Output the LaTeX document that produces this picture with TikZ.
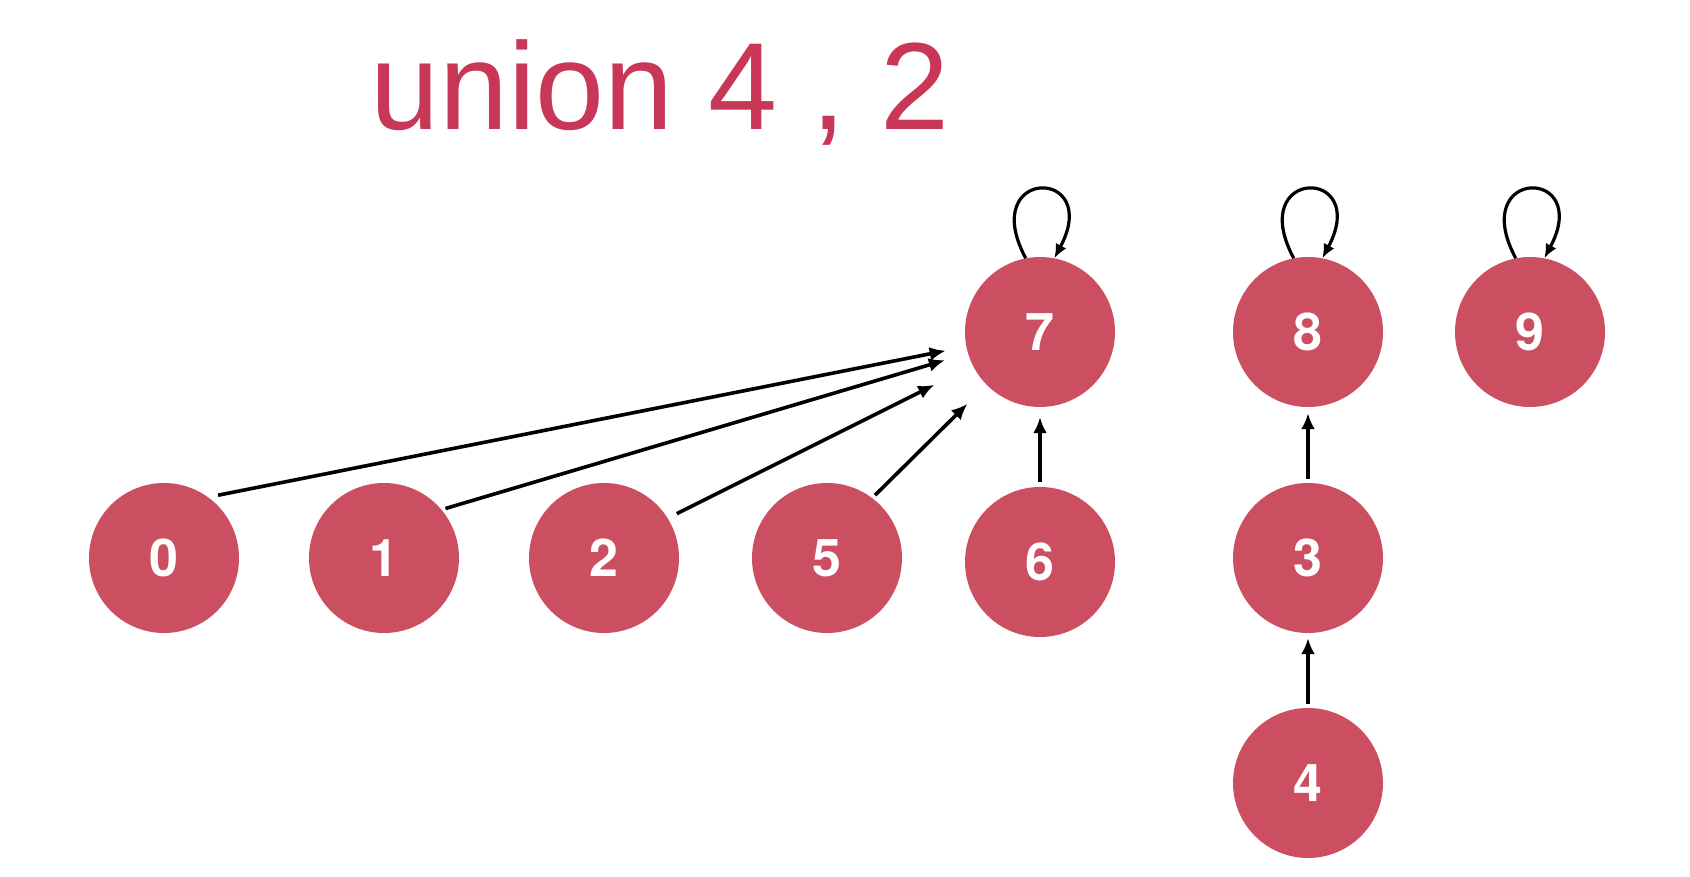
\documentclass[tikz,border=0pt]{standalone}
\usepackage{fontspec}
\setmainfont{Liberation Sans}
\newfontfamily\digitfont{TeX Gyre Heros}
\usetikzlibrary{arrows.meta}
\definecolor{nodered}{RGB}{203,78,97}
\definecolor{titlered}{RGB}{201,55,86}

\begin{document}
\begin{tikzpicture}[x=1pt,y=1pt,
  elem/.style={circle,fill=nodered,draw=none,minimum size=150pt,inner sep=0pt,text=white,font=\digitfont\bfseries\fontsize{52}{60}\selectfont},
  parent/.style={-{Latex[length=16pt,width=14pt]},line width=3.6pt},
  selfloop/.style={-{Latex[length=14pt,width=12pt]},line width=3.2pt,distance=104pt}]
\useasboundingbox (0,0) rectangle (1690,876);

% Text Node
\node[anchor=base,inner sep=0pt,text=titlered,font=\fontsize{124}{140}\selectfont] (title) at (660,746) {union 4 , 2};

%Shape: Circles, row of roots
\node[elem] (n7) at (1040,544) {7};
\node[elem] (n8) at (1308,544) {8};
\node[elem] (n9) at (1530,544) {9};
%Shape: Circles, middle row
\node[elem] (n0) at (164,318) {0};
\node[elem] (n1) at (384,318) {1};
\node[elem] (n2) at (604,318) {2};
\node[elem] (n5) at (827,318) {5};
\node[elem] (n6) at (1040,314) {6};
\node[elem] (n3) at (1308,318) {3};
%Shape: Circle, bottom
\node[elem] (n4) at (1308,93) {4};

%Straight Lines
\draw[parent,shorten <=10pt,shorten >=21pt] (n0.54) -- (n7);
\draw[parent,shorten <=4pt,shorten >=24pt] (n1.40) -- (n7);
\draw[parent,shorten <=10pt,shorten >=43pt] (n2.32) -- (n7);
\draw[parent,shorten <=4pt,shorten >=27pt] (n5.53) -- (n7);
\draw[parent,shorten <=5pt,shorten >=10pt] (n6) -- (n7);
\draw[parent,shorten <=4pt,shorten >=6pt] (n3) -- (n8);
\draw[parent,shorten <=4pt,shorten >=5pt] (n4) -- (n3);

%Curves: self loops
\draw[selfloop] (n7.101) to[out=118,in=62] (n7.79);
\draw[selfloop] (n8.101) to[out=118,in=62] (n8.79);
\draw[selfloop] (n9.101) to[out=118,in=62] (n9.79);

\end{tikzpicture}
\end{document}
